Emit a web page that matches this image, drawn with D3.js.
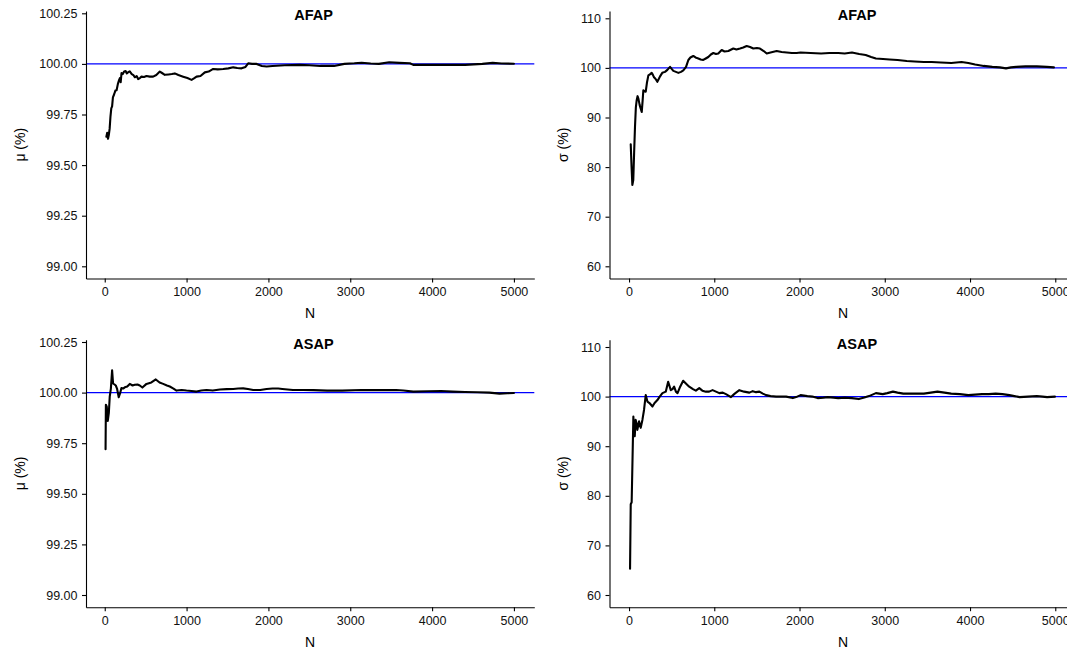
<!DOCTYPE html>
<html>
<head>
<meta charset="utf-8">
<script src="https://cdn.jsdelivr.net/npm/d3@7"></script>
<style>
  html, body { margin: 0; padding: 0; background: #ffffff; overflow: hidden; }
  svg { display: block; }
</style>
</head>
<body>
<svg id="chart" width="1067" height="652"></svg>
<script>
// ---------------- DATA ----------------
const xTicks = [0, 1000, 2000, 3000, 4000, 5000];
const muTicks = [99.00, 99.25, 99.50, 99.75, 100.00, 100.25];
const sigmaTicks = [60, 70, 80, 90, 100, 110];
const panelTitles = ["AFAP", "AFAP", "ASAP", "ASAP"];
const yLabels = ["\u03bc (%)", "\u03c3 (%)", "\u03bc (%)", "\u03c3 (%)"];
const xLabel = "N";
const referenceValue = 100;

// AFAP, mean (%)
const afapMuN = [20,30,40,50,60,70,80,90,100,115,130,145,160,175,185,195,205,220,237,255,270,290,306,330,350,367,390,408,430,449,480,510,550,591,630,673,700,734,780,820,856,900,958,1010,1061,1090,1122,1170,1223,1270,1325,1380,1447,1510,1570,1620,1672,1720,1753,1800,1856,1920,1978,2050,2200,2381,2500,2634,2802,2928,3050,3139,3250,3350,3476,3600,3729,3770,3950,4192,4403,4614,4741,4850,5000];
const afapMu = [99.64,99.66,99.63,99.65,99.68,99.74,99.78,99.79,99.835,99.85,99.868,99.87,99.90,99.92,99.93,99.91,99.955,99.95,99.963,99.965,99.953,99.96,99.963,99.95,99.945,99.934,99.94,99.925,99.93,99.937,99.935,99.94,99.937,99.937,99.945,99.962,99.955,99.946,99.948,99.95,99.953,99.945,99.937,99.93,99.921,99.928,99.937,99.94,99.958,99.962,99.975,99.973,99.975,99.978,99.983,99.98,99.978,99.985,100.003,100.0,100.0,99.99,99.987,99.99,99.993,99.995,99.993,99.99,99.99,100.0,100.003,100.006,100.002,100.0,100.008,100.005,100.003,99.995,99.995,99.995,99.995,100.0,100.005,100.002,100.001];

// AFAP, standard deviation (%)
const afapSigmaN = [20,30,39,50,60,70,80,90,100,110,125,149,160,168,180,196,210,227,245,266,280,293,310,332,350,364,390,422,450,481,500,520,550,579,610,637,669,696,720,754,780,813,840,871,900,930,960,989,1020,1047,1087,1120,1165,1223,1260,1302,1340,1380,1420,1458,1500,1536,1580,1615,1660,1732,1790,1850,1910,1967,2012,2130,2253,2350,2454,2530,2615,2700,2776,2840,2896,2980,3056,3150,3258,3350,3458,3550,3659,3780,3900,3980,4060,4160,4261,4350,4422,4480,4542,4650,4783,4900,4984];
const afapSigma = [84.6,80,76.4,77.4,83,88.1,92,93.5,94.3,93.8,92.5,91.1,93.5,95.5,95.3,95.2,97,98.5,98.7,99.0,98.6,98.1,97.8,97.2,97.8,98.3,99.0,99.2,99.6,100.2,99.8,99.4,99.2,99.0,99.2,99.5,100.2,101.6,102.1,102.4,102.1,101.9,101.7,101.6,101.9,102.2,102.7,103.0,102.8,102.9,103.6,103.3,103.4,103.9,103.7,103.9,104.1,104.4,104.2,103.9,104.0,103.9,103.4,102.9,103.1,103.4,103.2,103.1,103.0,103.0,103.1,103.0,102.9,103.0,103.0,102.9,103.1,102.8,102.6,102.2,101.9,101.8,101.7,101.6,101.4,101.3,101.2,101.2,101.1,101.0,101.2,101.0,100.7,100.4,100.2,100.1,99.9,100.1,100.2,100.3,100.3,100.2,100.1];

// ASAP, mean (%)
const asapMuN = [10,14,25,37,50,61,75,90,102,120,135,150,171,190,204,225,245,275,306,340,367,400,428,460,510,570,624,670,714,760,795,840,877,940,999,1060,1122,1180,1244,1320,1407,1490,1570,1630,1692,1750,1814,1900,1978,2050,2120,2170,2300,2422,2550,2718,2900,3139,3350,3560,3650,3771,3950,4109,4250,4403,4550,4700,4824,4920,5000];
const asapMu = [99.72,99.94,99.93,99.86,99.90,99.98,100.02,100.11,100.045,100.04,100.035,100.02,99.977,100.0,100.023,100.02,100.026,100.03,100.043,100.035,100.039,100.04,100.035,100.025,100.043,100.05,100.065,100.05,100.043,100.035,100.03,100.02,100.01,100.013,100.01,100.008,100.005,100.01,100.013,100.01,100.015,100.017,100.018,100.02,100.021,100.018,100.013,100.013,100.018,100.02,100.02,100.018,100.013,100.013,100.012,100.01,100.01,100.013,100.012,100.013,100.01,100.005,100.007,100.008,100.005,100.003,100.002,100.0,99.995,99.997,99.998];

// ASAP, standard deviation (%)
const asapSigmaN = [12,20,31,51,60,67,78,90,98,118,137,157,176,196,216,240,275,300,333,360,392,431,459,490,510,529,550,569,600,635,670,706,750,784,824,860,902,940,980,1020,1059,1100,1137,1196,1240,1294,1350,1412,1451,1490,1529,1570,1608,1660,1725,1790,1843,1922,1960,2012,2092,2150,2213,2280,2333,2400,2454,2530,2614,2695,2760,2815,2896,2976,3030,3096,3150,3217,3350,3458,3540,3618,3700,3779,3880,3980,4060,4141,4220,4301,4380,4462,4520,4582,4680,4783,4850,4904,4996];
const asapSigma = [65.3,78.3,78.7,96.0,93,92.0,95.3,94.5,93.3,95.0,93.7,95.3,97.3,100.3,99.0,98.7,98.0,98.7,99.3,100.0,100.7,101.0,103.0,101.3,101.5,102.0,101.0,100.7,102,103.2,102.6,102.0,101.5,101.2,101.7,101.2,101.0,101.0,101.3,101.0,100.7,100.8,100.5,99.9,100.6,101.3,101.0,100.8,101.1,100.9,101.0,100.6,100.3,100.1,100.0,100.0,100.0,99.7,99.9,100.3,100.1,100.0,99.7,99.8,99.9,99.8,99.7,99.8,99.7,99.5,99.8,100.1,100.7,100.5,100.7,101.0,100.8,100.6,100.6,100.6,100.8,101.0,100.8,100.6,100.5,100.3,100.4,100.5,100.5,100.6,100.5,100.3,100.1,99.9,100.0,100.1,100.0,99.9,100.0];

// ---------------- LAYOUT ----------------
const FONT = "'Liberation Sans', Arial, Helvetica, sans-serif";
const xDomain = [-229, 5249];
const rowOffset = [0, 328.7];
const cols = [
  { xr: [86, 534.3], yTitleX: 25, titleX: 313.5, ticks: muTicks, fmt: d3.format(".2f"),
    anchor: d3.scaleLinear().domain([99, 100.25]).range([266.3, 13.3]) },
  { xr: [609.5, 1076.5], yTitleX: 567.5, titleX: 857, ticks: sigmaTicks, fmt: d3.format("d"),
    anchor: d3.scaleLinear().domain([60, 110]).range([266.3, 18.3]) }
];
const panelTop = 11, panelBottom = 278.5;

const panels = [
  { col: 0, row: 0, n: afapMuN, v: afapMu },
  { col: 1, row: 0, n: afapSigmaN, v: afapSigma },
  { col: 0, row: 1, n: asapMuN, v: asapMu },
  { col: 1, row: 1, n: asapSigmaN, v: asapSigma }
];

const svg = d3.select("#chart");

panels.forEach((p, i) => {
  const c = cols[p.col];
  const off = rowOffset[p.row];
  const top = panelTop + off, bottom = panelBottom + off;

  const x = d3.scaleLinear().domain(xDomain).range(c.xr);
  const yDomain = [c.anchor.invert(panelBottom), c.anchor.invert(panelTop)];
  const y = d3.scaleLinear().domain(yDomain).range([bottom, top]);

  const g = svg.append("g");

  // reference line
  g.append("line")
    .attr("x1", c.xr[0]).attr("x2", c.xr[1])
    .attr("y1", y(referenceValue)).attr("y2", y(referenceValue))
    .attr("stroke", "#0000ff").attr("stroke-width", 1.1);

  // data line
  const pts = p.n.map((n, k) => [n, p.v[k]]);
  g.append("path")
    .datum(pts)
    .attr("fill", "none")
    .attr("stroke", "#000")
    .attr("stroke-width", 2.1)
    .attr("stroke-linejoin", "round")
    .attr("stroke-linecap", "round")
    .attr("d", d3.line().x(d => x(d[0])).y(d => y(d[1])));

  // axes
  const yAxis = g.append("g")
    .attr("transform", `translate(${c.xr[0]},0)`)
    .call(d3.axisLeft(y).tickValues(c.ticks).tickFormat(c.fmt).tickSize(4).tickSizeOuter(0).tickPadding(4.5));
  const xAxis = g.append("g")
    .attr("transform", `translate(0,${bottom})`)
    .call(d3.axisBottom(x).tickValues(xTicks).tickFormat(d3.format("d")).tickSize(4).tickSizeOuter(0).tickPadding(5));

  [yAxis, xAxis].forEach(a => {
    a.attr("font-family", FONT).attr("font-size", 12.5);
    a.selectAll("path.domain").attr("stroke", "#000").attr("stroke-width", 1.1);
    a.selectAll(".tick line").attr("stroke", "#000").attr("stroke-width", 1.1);
    a.selectAll(".tick text").attr("fill", "#111");
  });

  // panel title
  g.append("text")
    .attr("x", c.titleX).attr("y", 20 + off)
    .attr("text-anchor", "middle")
    .attr("font-family", FONT).attr("font-weight", "bold").attr("font-size", 14.5)
    .attr("fill", "#000")
    .text(panelTitles[i]);

  // x axis title
  g.append("text")
    .attr("x", (c.xr[0] + c.xr[1]) / 2).attr("y", 318.3 + off)
    .attr("text-anchor", "middle")
    .attr("font-family", FONT).attr("font-size", 14)
    .attr("fill", "#000")
    .text(xLabel);

  // y axis title
  g.append("text")
    .attr("transform", `translate(${c.yTitleX},${(top + bottom) / 2}) rotate(-90)`)
    .attr("text-anchor", "middle")
    .attr("font-family", FONT).attr("font-size", 14)
    .attr("fill", "#000")
    .text(yLabels[i]);
});
</script>
</body>
</html>
